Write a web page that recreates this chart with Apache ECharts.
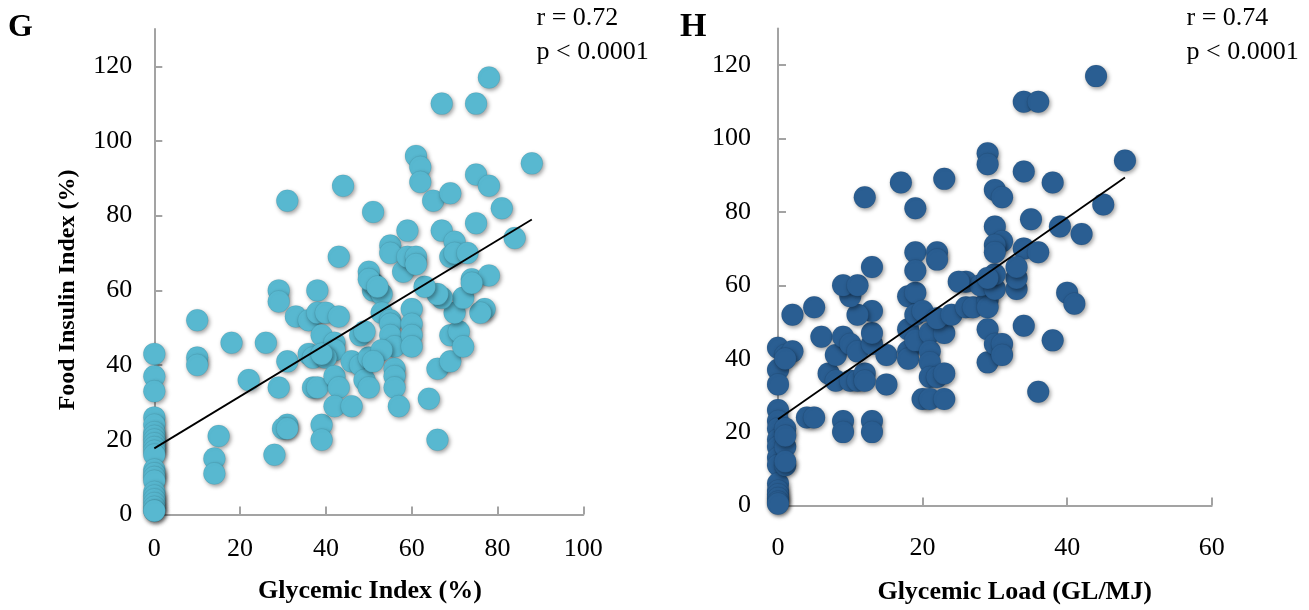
<!DOCTYPE html>
<html>
<head>
<meta charset="utf-8">
<title>Food Insulin Index vs Glycemic Index and Glycemic Load</title>
<script src="https://cdn.jsdelivr.net/npm/echarts@6/dist/echarts.min.js"></script>
<style>
  html, body { margin: 0; padding: 0; background: #ffffff; }
  #chart { width: 1309px; height: 610px; }
</style>
</head>
<body>
<div id="chart"></div>
<script>
// Panel G: [glycemic index (%), food insulin index (%)]
const giPoints = [
  [0,43],[0,37],[0,33],[0,26],[0,24],[0,22],[0,21],[0,20],[0,19],[0,18],[0,17],[0,16],
  [0,12],[0,11],[0,10],[0,9],[0,6],[0,5],[0,4],[0,3],[0,2],[0,1],[0,1],
  [10,52],[10,42],[10,40],[18,46],[26,46],[22,36],[15,21],[14,15],[14,11],[28,16],
  [31,24],[30,23],[31,23],[39,24],[39,20],
  [29,60],[29,57],[38,60],[33,53],[36,52],[38,54],[40,54],[43,53],
  [31,41],[29,34],[36,43],[37,42],[39,48],[42,46],[42,44],[40,42],[39,43],
  [37,34],[38,34],[42,37],[43,34],[42,29],[46,29],
  [46,41],[48,40],[49,36],[50,34],[50,42],[48,48],[49,49],
  [51,60],[51,62],[53,59],[53,54],[55,52],[55,51],[55,48],[56,45],[53,44],[51,41],
  [56,39],[56,37],[56,34],[57,29],
  [60,55],[60,51],[60,48],[60,45],
  [66,39],[64,31],[66,20],[69,41],[69,48],[71,49],[72,45],[70,54],[77,55],[76,54],
  [72,58],[67,58],[66,59],[63,61],
  [31,84],[44,88],[51,81],[43,69],[50,65],[50,63],[52,61],
  [55,72],[55,70],[58,65],[59,76],[59,69],[61,69],[61,67],
  [61,96],[62,93],[62,89],[65,84],[69,86],
  [67,110],[75,110],[78,117],[88,94],[75,91],[78,88],[81,82],
  [67,76],[70,73],[75,78],[84,74],[69,69],[70,70],[73,70],[74,63],[78,64],[74,62]
];

// Panel H: [glycemic load (GL/MJ), food insulin index (%)]
const glPoints = [
  [0,43],[0,37],[0,33],[0,26],[0,23],[0,21],[0,18],[0,16],[0,13],[0,11],[0,6],[0,4],
  [0,3],[0,2],[0,1],[0,0.5],
  [1,41],[2,42],[1,40],[1,21],[1,16],[1,11],[1,19],[1,12],
  [2,52],[5,54],[4,24],[5,24],[9,23],[9,20],[13,23],[13,20],
  [6,46],[7,36],[8,41],[9,46],[10,44],[8,34],[10,34],[11,34],[12,36],[12,34],[11,42],
  [13,44],[13,47],[13,53],[11,52],[10,57],[9,60],[11,60],[15,41],[15,33],
  [18,57],[19,58],[18,48],[18,42],[18,40],[19,52],[20,53],[19,45],[21,47],[21,42],
  [21,39],[21,35],[22,35],[23,36],[20,29],[21,29],[23,29],[23,47],[22,51],[24,52],
  [26,54],[27,54],[29,56],[29,54],[29,48],[29,39],[26,61],[28,60],[30,59],[30,44],
  [40,58],[41,55],[34,49],[38,45],[36,31],[31,44],[31,41],[33,59],[33,62],[30,63],[29,62],
  [44,117],[34,110],[36,110],[48,94],[29,96],[29,93],[34,91],[38,88],[23,89],[17,88],
  [12,84],[19,81],[30,86],[31,84],[45,82],[35,78],[39,76],[42,74],[30,76],[31,72],
  [30,71],[30,69],[34,70],[36,69],[19,69],[22,69],[22,67],[19,64],[13,65],[33,65],[25,61]
];

// Least-squares fit lines, as end points
const giTrend = [[0,17.7],[88,79]];
const glTrend = [[0,23.5],[48,89.4]];

const yTicks = [0,20,40,60,80,100,120];
const giTicks = [0,20,40,60,80,100];
const glTicks = [0,20,40,60];

const giStats = ['r = 0.72', 'p < 0.0001'];
const glStats = ['r = 0.74', 'p < 0.0001'];

const SERIF = '"Liberation Serif", "Times New Roman", serif';
const AXIS_GREY = '#a3a3a3';

function valueAxis(gridIndex, max, ticks, labelMargin) {
  return {
    type: 'value',
    gridIndex: gridIndex,
    min: 0,
    max: max,
    interval: 20,
    splitLine: { show: false },
    axisLine: { show: true, onZero: false, lineStyle: { color: AXIS_GREY, width: 2 } },
    axisTick: { show: true, inside: true, length: 8, customValues: ticks,
                lineStyle: { color: AXIS_GREY, width: 2 } },
    axisLabel: { customValues: ticks, margin: labelMargin, color: '#000',
                 fontFamily: SERIF, fontSize: 26 }
  };
}

function scatter(idx, data, color) {
  return {
    type: 'scatter',
    xAxisIndex: idx,
    yAxisIndex: idx,
    data: data,
    symbol: 'circle',
    symbolSize: 22,
    itemStyle: {
      color: color,
      opacity: 1,
      borderColor: 'rgba(0,0,0,0.12)',
      borderWidth: 0.6,
      shadowColor: 'rgba(0,0,0,0.38)',
      shadowBlur: 4,
      shadowOffsetX: 1.5,
      shadowOffsetY: 2
    },
    emphasis: { disabled: true },
    z: 2
  };
}

function trend(idx, data) {
  return {
    type: 'line',
    xAxisIndex: idx,
    yAxisIndex: idx,
    data: data,
    symbol: 'none',
    lineStyle: { color: '#000', width: 1.8 },
    emphasis: { disabled: true },
    z: 5
  };
}

function text(str, x, y, size, bold, align, rotation) {
  return {
    type: 'text',
    x: x, y: y,
    rotation: rotation || 0,
    style: {
      text: str,
      fill: '#000',
      font: (bold ? 'bold ' : '') + size + 'px ' + SERIF,
      textAlign: align,
      textVerticalAlign: 'middle'
    }
  };
}

const chart = echarts.init(document.getElementById('chart'), null, { renderer: 'canvas' });

chart.setOption({
  backgroundColor: '#ffffff',
  animation: false,
  grid: [
    { left: 154.3, top: 28.9, width: 429, height: 485.6 },
    { left: 778, top: 28.4, width: 433.7, height: 477.1 }
  ],
  xAxis: [
    valueAxis(0, 100, giTicks, 22),
    valueAxis(1, 60, glTicks, 30)
  ],
  yAxis: [
    valueAxis(0, 130, yTicks, 22),
    valueAxis(1, 130, yTicks, 27)
  ],
  series: [
    scatter(0, giPoints, '#58b8d0'),
    trend(0, giTrend),
    scatter(1, glPoints, '#2a5e92'),
    trend(1, glTrend)
  ],
  graphic: [
    text('G', 8, 28, 32, true, 'left'),
    text(giStats[0], 536.5, 18, 26, false, 'left'),
    text(giStats[1], 536.5, 52, 26, false, 'left'),
    text('Glycemic Index (%)', 370, 591, 26, true, 'center'),
    text('Food Insulin Index (%)', 68, 290, 24, true, 'center', Math.PI / 2),
    text('H', 680, 27, 34, true, 'left'),
    text(glStats[0], 1186.5, 18, 26, false, 'left'),
    text(glStats[1], 1186.5, 52, 26, false, 'left'),
    text('Glycemic Load (GL/MJ)', 1014.6, 592, 26, true, 'center')
  ]
});
</script>
</body>
</html>
